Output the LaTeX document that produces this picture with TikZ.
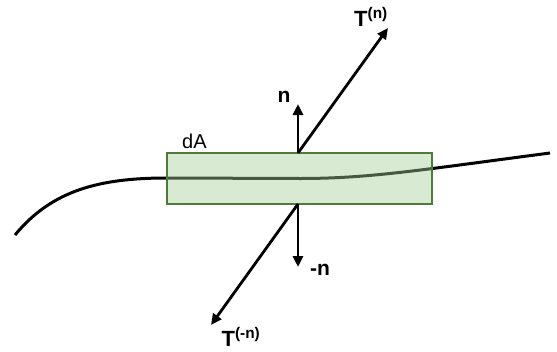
\documentclass[tikz,border=0pt]{standalone}
\usepackage{fontspec}
\setmainfont{Liberation Sans}
\usetikzlibrary{arrows.meta}
\definecolor{boxfill}{HTML}{D9EAD3}
\definecolor{boxline}{HTML}{4F7A3A}
\definecolor{innerline}{HTML}{48583E}
\tikzset{
  vec/.style={line width=2.8pt, -{Triangle[length=11pt,width=10pt]}},
  lbl/.style={font=\bfseries\fontsize{21}{23}\selectfont, inner sep=0pt},
  tlbl/.style={font=\bfseries\fontsize{22}{24}\selectfont, inner sep=0pt},
  surf/.style={line width=3pt},
}
\begin{document}
\begin{tikzpicture}[x=1pt,y=-1pt]
\useasboundingbox (0,0) rectangle (557,351);
\def\surfpath{(15,235) .. controls (52,190) and (100,178) .. (167,178)
  -- (300,178.5) .. controls (370,178.5) and (420,170) .. (550,153)}
% surface curve
\draw[surf] \surfpath;
% area element
\node[draw=boxline, line width=1.6pt, fill=boxfill,
      minimum width=265pt, minimum height=51pt, inner sep=0pt] (rect) at (299.5,178.5) {};
\begin{scope}
  \clip (168,154) rectangle (431,203);
  \draw[surf, innerline] \surfpath;
\end{scope}
\node[font=\fontsize{20}{22}\selectfont, inner sep=0pt, anchor=base west] (dA) at (182,148) {dA};
% points
\coordinate (top) at (298,153);
\coordinate (bot) at (298,204);
\coordinate (nend) at (298,104);
\coordinate (tnend) at (388,28);
\coordinate (mnend) at (298,267);
\coordinate (tmnend) at (211,325);
\draw[vec] (top) -- (nend);
\draw[vec] (top) -- (tnend);
\draw[vec] (bot) -- (mnend);
\draw[vec] (bot) -- (tmnend);
% labels
\node[lbl] (nl) at (284,97) {n};
\node[tlbl] (tnl) at (371,17) {T\textsuperscript{(n)}};
\node[lbl] (mnl) at (320,270) {-n};
\node[tlbl] (tmnl) at (241,337) {T\textsuperscript{(-n)}};
\end{tikzpicture}
\end{document}
